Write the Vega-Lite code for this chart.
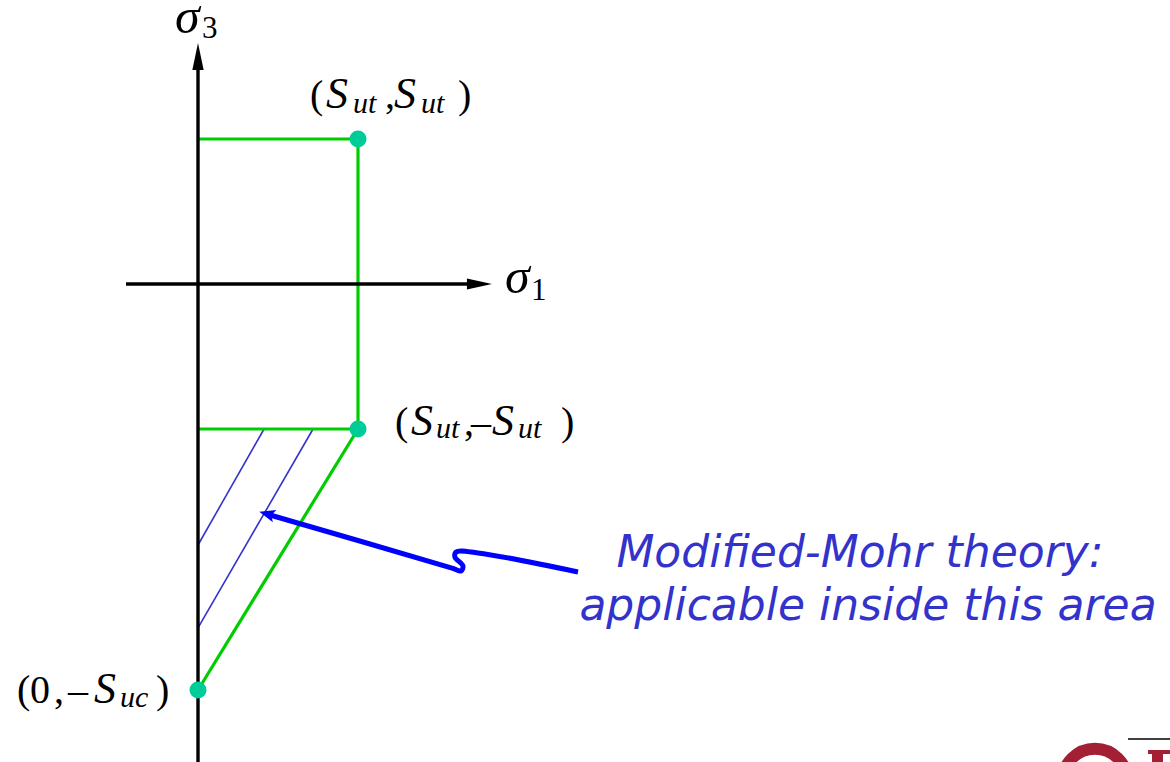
{
  "$schema": "https://vega.github.io/schema/vega-lite/v6.json",
  "width": 1170,
  "height": 762,
  "padding": 0,
  "autosize": {"type": "none"},
  "background": "white",
  "config": {"view": {"stroke": null}},
  "datasets": {
    "segments": [
      {"kind": "axis", "x": -0.45, "y": 0, "x2": 1.7, "y2": 0},
      {"kind": "axis", "x": 0, "y": -3.4, "x2": 0, "y2": 1.476},
      {"kind": "boundary", "x": 0, "y": 1, "x2": 1, "y2": 1},
      {"kind": "boundary", "x": 1, "y": 1, "x2": 1, "y2": -1},
      {"kind": "boundary", "x": 0, "y": -1, "x2": 1, "y2": -1},
      {"kind": "boundary", "x": 1, "y": -1, "x2": 0, "y2": -2.8},
      {"kind": "hatch", "x": 0.413, "y": -1, "x2": 0, "y2": -1.8},
      {"kind": "hatch", "x": 0.719, "y": -1, "x2": 0, "y2": -2.372}
    ],
    "corners": [
      {"name": "Sut,Sut", "x": 1, "y": 1},
      {"name": "Sut,-Sut", "x": 1, "y": -1},
      {"name": "0,-Suc", "x": 0, "y": -2.8}
    ],
    "pointer": [
      {"seq": 0, "x": 0.45, "y": -1.593},
      {"seq": 1, "x": 1.5875, "y": -1.959},
      {"seq": 2, "x": 1.644, "y": -1.979},
      {"seq": 3, "x": 1.656, "y": -1.945},
      {"seq": 4, "x": 1.606, "y": -1.883},
      {"seq": 5, "x": 1.6125, "y": -1.848},
      {"seq": 6, "x": 1.75, "y": -1.855},
      {"seq": 7, "x": 2.375, "y": -1.986}
    ],
    "heads": [
      {"head": "sigma1", "x": 1.759, "y": 0},
      {"head": "sigma3", "x": 0, "y": 1.569},
      {"head": "pointer", "x": 0.431, "y": -1.586}
    ],
    "labels": [
      {"role": "roman", "text": "(", "x": 0.7, "y": 1.2138},
      {"role": "italic", "text": "S", "x": 0.8, "y": 1.2138},
      {"role": "sub", "text": "ut", "x": 0.96875, "y": 1.1793},
      {"role": "roman", "text": ",", "x": 1.16875, "y": 1.2138},
      {"role": "italic", "text": "S", "x": 1.225, "y": 1.2138},
      {"role": "sub", "text": "ut", "x": 1.39375, "y": 1.1793},
      {"role": "roman", "text": ")", "x": 1.625, "y": 1.2138},

      {"role": "roman", "text": "(", "x": 1.23125, "y": -1.0414},
      {"role": "italic", "text": "S", "x": 1.33125, "y": -1.0414},
      {"role": "sub", "text": "ut", "x": 1.4875, "y": -1.062},
      {"role": "roman", "text": ",", "x": 1.6625, "y": -1.0414},
      {"role": "roman", "text": "–", "x": 1.70625, "y": -1.0414},
      {"role": "italic", "text": "S", "x": 1.8375, "y": -1.0414},
      {"role": "sub", "text": "ut", "x": 2.0, "y": -1.062},
      {"role": "roman", "text": ")", "x": 2.26875, "y": -1.0414},

      {"role": "roman", "text": "(", "x": -1.13125, "y": -2.8897},
      {"role": "roman", "text": "0", "x": -1.05, "y": -2.8897},
      {"role": "roman", "text": ",", "x": -0.9, "y": -2.8897},
      {"role": "roman", "text": "–", "x": -0.8125, "y": -2.8897},
      {"role": "italic", "text": "S", "x": -0.65, "y": -2.8897},
      {"role": "sub", "text": "uc", "x": -0.4875, "y": -2.9172},
      {"role": "roman", "text": ")", "x": -0.2625, "y": -2.8897},

      {"role": "greek", "text": "σ", "x": -0.14375, "y": 1.731},
      {"role": "index", "text": "3", "x": 0.025, "y": 1.6966},
      {"role": "greek", "text": "σ", "x": 1.91875, "y": -0.0621},
      {"role": "index", "text": "1", "x": 2.08125, "y": -0.1103}
    ],
    "notes": [
      {"text": "Modified-Mohr theory:", "x": 4.1375, "y": -1.9517},
      {"text": "applicable inside this area", "x": 4.1875, "y": -2.3172}
    ],
    "seal": [
      {"x": 5.606, "y": -3.4276}
    ],
    "wordmark": [
      {"part": "rule", "x": 5.8125, "x2": 6.075, "y": -3.1379, "y2": -3.1379},
      {"part": "serif", "x": 5.9375, "x2": 6.075, "y": -3.2138, "y2": -3.2414},
      {"part": "stem", "x": 5.9625, "x2": 6.03125, "y": -3.2414, "y2": -3.2966}
    ]
  },
  "encoding": {
    "x": {"field": "x", "type": "quantitative", "axis": null,
          "scale": {"domain": [-1.2375, 6.075], "nice": false, "zero": false}},
    "y": {"field": "y", "type": "quantitative", "axis": null,
          "scale": {"domain": [-3.2966, 1.9586], "nice": false, "zero": false}}
  },
  "layer": [
    {
      "data": {"name": "segments"},
      "transform": [{"filter": "datum.kind === 'hatch'"}],
      "mark": {"type": "rule", "color": "#3333cc", "strokeWidth": 1.6},
      "encoding": {"x2": {"field": "x2"}, "y2": {"field": "y2"}}
    },
    {
      "data": {"name": "segments"},
      "transform": [{"filter": "datum.kind === 'boundary'"}],
      "mark": {"type": "rule", "color": "#00cc00", "strokeWidth": 3.2},
      "encoding": {"x2": {"field": "x2"}, "y2": {"field": "y2"}}
    },
    {
      "data": {"name": "segments"},
      "transform": [{"filter": "datum.kind === 'axis'"}],
      "mark": {"type": "rule", "color": "#000000", "strokeWidth": 3.4},
      "encoding": {"x2": {"field": "x2"}, "y2": {"field": "y2"}}
    },
    {
      "data": {"name": "heads"},
      "transform": [{"filter": "datum.head === 'sigma1'"}],
      "mark": {"type": "point", "filled": true, "color": "#000000", "opacity": 1,
               "shape": "M1,0 L-1,-0.44 L-1,0.44 Z", "size": 625, "angle": 0}
    },
    {
      "data": {"name": "heads"},
      "transform": [{"filter": "datum.head === 'sigma3'"}],
      "mark": {"type": "point", "filled": true, "color": "#000000", "opacity": 1,
               "shape": "M1,0 L-1,-0.42 L-1,0.42 Z", "size": 729, "angle": 270}
    },
    {
      "data": {"name": "pointer"},
      "mark": {"type": "line", "color": "#0000ff", "strokeWidth": 5,
               "interpolate": "catmull-rom", "strokeCap": "butt", "strokeJoin": "round"},
      "encoding": {"order": {"field": "seq", "type": "quantitative"}}
    },
    {
      "data": {"name": "heads"},
      "transform": [{"filter": "datum.head === 'pointer'"}],
      "mark": {"type": "point", "filled": true, "color": "#0000ff", "opacity": 1,
               "shape": "M1,0 L-1,-0.8 L-0.55,0 L-1,0.8 Z", "size": 256, "angle": 196}
    },
    {
      "data": {"name": "corners"},
      "mark": {"type": "point", "filled": true, "color": "#00cc99", "opacity": 1,
               "shape": "circle", "size": 290}
    },
    {
      "data": {"name": "labels"},
      "transform": [{"filter": "datum.role === 'roman'"}],
      "mark": {"type": "text", "font": "Liberation Serif", "fontSize": 40,
               "align": "left", "baseline": "alphabetic", "color": "#000000"},
      "encoding": {"text": {"field": "text"}}
    },
    {
      "data": {"name": "labels"},
      "transform": [{"filter": "datum.role === 'italic'"}],
      "mark": {"type": "text", "font": "Liberation Serif", "fontSize": 44, "fontStyle": "italic",
               "align": "left", "baseline": "alphabetic", "color": "#000000"},
      "encoding": {"text": {"field": "text"}}
    },
    {
      "data": {"name": "labels"},
      "transform": [{"filter": "datum.role === 'sub'"}],
      "mark": {"type": "text", "font": "Liberation Serif", "fontSize": 30, "fontStyle": "italic",
               "align": "left", "baseline": "alphabetic", "color": "#000000"},
      "encoding": {"text": {"field": "text"}}
    },
    {
      "data": {"name": "labels"},
      "transform": [{"filter": "datum.role === 'greek'"}],
      "mark": {"type": "text", "font": "Liberation Serif", "fontSize": 50, "fontStyle": "italic",
               "align": "left", "baseline": "alphabetic", "color": "#000000"},
      "encoding": {"text": {"field": "text"}}
    },
    {
      "data": {"name": "labels"},
      "transform": [{"filter": "datum.role === 'index'"}],
      "mark": {"type": "text", "font": "Liberation Serif", "fontSize": 31,
               "align": "left", "baseline": "alphabetic", "color": "#000000"},
      "encoding": {"text": {"field": "text"}}
    },
    {
      "data": {"name": "notes"},
      "mark": {"type": "text", "font": "DejaVu Sans", "fontSize": 44, "fontStyle": "italic",
               "align": "center", "baseline": "alphabetic", "color": "#3333cc"},
      "encoding": {"text": {"field": "text"}}
    },
    {
      "data": {"name": "seal"},
      "mark": {"type": "point", "shape": "circle", "size": 4185, "filled": false,
               "fill": "#ffffff", "fillOpacity": 1, "stroke": "#a31f34", "strokeWidth": 12, "opacity": 1}
    },
    {
      "data": {"name": "wordmark"},
      "transform": [{"filter": "datum.part === 'rule'"}],
      "mark": {"type": "rule", "color": "#000000", "strokeWidth": 1.5},
      "encoding": {"x2": {"field": "x2"}, "y2": {"field": "y2"}}
    },
    {
      "data": {"name": "wordmark"},
      "transform": [{"filter": "datum.part !== 'rule'"}],
      "mark": {"type": "rect", "color": "#a31f34"},
      "encoding": {"x2": {"field": "x2"}, "y2": {"field": "y2"}}
    }
  ]
}
